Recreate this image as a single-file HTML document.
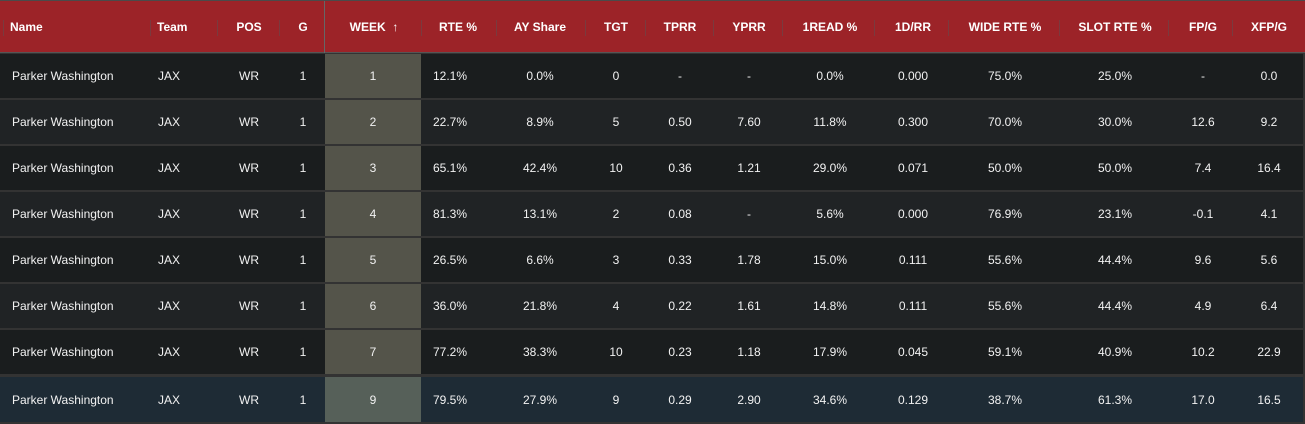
<!DOCTYPE html>
<html><head><meta charset="utf-8"><style>
body{margin:0;width:1305px;height:424px;background:#333;overflow:hidden;font-family:"Liberation Sans",sans-serif;}
.hdr{position:absolute;left:0;top:0;width:1305px;height:53px;background:#9c2328;border-top:1px solid #4a4a4a;box-sizing:border-box;border-bottom:1px solid #555;}
.row{position:absolute;left:0;width:1303px;height:44px;}
.c{position:absolute;top:0;height:100%;display:flex;align-items:center;justify-content:center;color:#f2f2f2;font-size:12px;white-space:nowrap;}
.h{position:absolute;top:0;height:52px;display:flex;align-items:center;justify-content:center;color:#fff;font-size:12px;font-weight:bold;white-space:nowrap;}
.sep{position:absolute;top:19px;width:1px;height:16px;background:#7a3a3e;}
.wk{position:absolute;left:325px;width:96px;top:0;height:100%;background:#54544a;}
</style></head><body>
<div class="hdr">
<div class="sep" style="left:3px"></div><div class="sep" style="left:150px"></div><div class="sep" style="left:217px"></div><div class="sep" style="left:279px"></div>
<div style="position:absolute;left:324px;top:0;width:1px;height:52px;background:#666"></div>
<div class="sep" style="left:421px"></div><div class="sep" style="left:496px"></div><div class="sep" style="left:585px"></div><div class="sep" style="left:645px"></div><div class="sep" style="left:713px"></div><div class="sep" style="left:782px"></div><div class="sep" style="left:874px"></div><div class="sep" style="left:948px"></div><div class="sep" style="left:1059px"></div><div class="sep" style="left:1168px"></div><div class="sep" style="left:1232px"></div>
<div class="h" style="left:10px;justify-content:flex-start">Name</div>
<div class="h" style="left:157px;justify-content:flex-start">Team</div>
<div class="h" style="left:219px;width:60px">POS</div>
<div class="h" style="left:283px;width:40px">G</div>
<div class="h" style="left:324px;width:100px">WEEK&nbsp;&nbsp;&#8593;</div>
<div class="h" style="left:418px;width:80px">RTE %</div>
<div class="h" style="left:490px;width:100px">AY Share</div>
<div class="h" style="left:586px;width:60px">TGT</div>
<div class="h" style="left:650px;width:60px">TPRR</div>
<div class="h" style="left:719px;width:60px">YPRR</div>
<div class="h" style="left:790px;width:80px">1READ %</div>
<div class="h" style="left:873px;width:80px">1D/RR</div>
<div class="h" style="left:945px;width:120px">WIDE RTE %</div>
<div class="h" style="left:1055px;width:120px">SLOT RTE %</div>
<div class="h" style="left:1173px;width:60px">FP/G</div>
<div class="h" style="left:1239px;width:60px">XFP/G</div>
</div>

<div class="row" style="top:54px;background:#1a1d1e"><div class="wk"></div>
<div class="c" style="left:12px">Parker Washington</div><div class="c" style="left:158px">JAX</div><div class="c" style="left:219px;width:60px">WR</div><div class="c" style="left:283px;width:40px">1</div><div class="c" style="left:325px;width:96px">1</div><div class="c" style="left:410px;width:80px">12.1%</div><div class="c" style="left:490px;width:100px">0.0%</div><div class="c" style="left:586px;width:60px">0</div><div class="c" style="left:650px;width:60px">-</div><div class="c" style="left:719px;width:60px">-</div><div class="c" style="left:790px;width:80px">0.0%</div><div class="c" style="left:873px;width:80px">0.000</div><div class="c" style="left:945px;width:120px">75.0%</div><div class="c" style="left:1055px;width:120px">25.0%</div><div class="c" style="left:1173px;width:60px">-</div><div class="c" style="left:1239px;width:60px">0.0</div></div>

<div class="row" style="top:100px;background:#202325"><div class="wk"></div>
<div class="c" style="left:12px">Parker Washington</div><div class="c" style="left:158px">JAX</div><div class="c" style="left:219px;width:60px">WR</div><div class="c" style="left:283px;width:40px">1</div><div class="c" style="left:325px;width:96px">2</div><div class="c" style="left:410px;width:80px">22.7%</div><div class="c" style="left:490px;width:100px">8.9%</div><div class="c" style="left:586px;width:60px">5</div><div class="c" style="left:650px;width:60px">0.50</div><div class="c" style="left:719px;width:60px">7.60</div><div class="c" style="left:790px;width:80px">11.8%</div><div class="c" style="left:873px;width:80px">0.300</div><div class="c" style="left:945px;width:120px">70.0%</div><div class="c" style="left:1055px;width:120px">30.0%</div><div class="c" style="left:1173px;width:60px">12.6</div><div class="c" style="left:1239px;width:60px">9.2</div></div>

<div class="row" style="top:146px;background:#1a1d1e"><div class="wk"></div>
<div class="c" style="left:12px">Parker Washington</div><div class="c" style="left:158px">JAX</div><div class="c" style="left:219px;width:60px">WR</div><div class="c" style="left:283px;width:40px">1</div><div class="c" style="left:325px;width:96px">3</div><div class="c" style="left:410px;width:80px">65.1%</div><div class="c" style="left:490px;width:100px">42.4%</div><div class="c" style="left:586px;width:60px">10</div><div class="c" style="left:650px;width:60px">0.36</div><div class="c" style="left:719px;width:60px">1.21</div><div class="c" style="left:790px;width:80px">29.0%</div><div class="c" style="left:873px;width:80px">0.071</div><div class="c" style="left:945px;width:120px">50.0%</div><div class="c" style="left:1055px;width:120px">50.0%</div><div class="c" style="left:1173px;width:60px">7.4</div><div class="c" style="left:1239px;width:60px">16.4</div></div>

<div class="row" style="top:192px;background:#202325"><div class="wk"></div>
<div class="c" style="left:12px">Parker Washington</div><div class="c" style="left:158px">JAX</div><div class="c" style="left:219px;width:60px">WR</div><div class="c" style="left:283px;width:40px">1</div><div class="c" style="left:325px;width:96px">4</div><div class="c" style="left:410px;width:80px">81.3%</div><div class="c" style="left:490px;width:100px">13.1%</div><div class="c" style="left:586px;width:60px">2</div><div class="c" style="left:650px;width:60px">0.08</div><div class="c" style="left:719px;width:60px">-</div><div class="c" style="left:790px;width:80px">5.6%</div><div class="c" style="left:873px;width:80px">0.000</div><div class="c" style="left:945px;width:120px">76.9%</div><div class="c" style="left:1055px;width:120px">23.1%</div><div class="c" style="left:1173px;width:60px">-0.1</div><div class="c" style="left:1239px;width:60px">4.1</div></div>

<div class="row" style="top:238px;background:#1a1d1e"><div class="wk"></div>
<div class="c" style="left:12px">Parker Washington</div><div class="c" style="left:158px">JAX</div><div class="c" style="left:219px;width:60px">WR</div><div class="c" style="left:283px;width:40px">1</div><div class="c" style="left:325px;width:96px">5</div><div class="c" style="left:410px;width:80px">26.5%</div><div class="c" style="left:490px;width:100px">6.6%</div><div class="c" style="left:586px;width:60px">3</div><div class="c" style="left:650px;width:60px">0.33</div><div class="c" style="left:719px;width:60px">1.78</div><div class="c" style="left:790px;width:80px">15.0%</div><div class="c" style="left:873px;width:80px">0.111</div><div class="c" style="left:945px;width:120px">55.6%</div><div class="c" style="left:1055px;width:120px">44.4%</div><div class="c" style="left:1173px;width:60px">9.6</div><div class="c" style="left:1239px;width:60px">5.6</div></div>

<div class="row" style="top:284px;background:#202325"><div class="wk"></div>
<div class="c" style="left:12px">Parker Washington</div><div class="c" style="left:158px">JAX</div><div class="c" style="left:219px;width:60px">WR</div><div class="c" style="left:283px;width:40px">1</div><div class="c" style="left:325px;width:96px">6</div><div class="c" style="left:410px;width:80px">36.0%</div><div class="c" style="left:490px;width:100px">21.8%</div><div class="c" style="left:586px;width:60px">4</div><div class="c" style="left:650px;width:60px">0.22</div><div class="c" style="left:719px;width:60px">1.61</div><div class="c" style="left:790px;width:80px">14.8%</div><div class="c" style="left:873px;width:80px">0.111</div><div class="c" style="left:945px;width:120px">55.6%</div><div class="c" style="left:1055px;width:120px">44.4%</div><div class="c" style="left:1173px;width:60px">4.9</div><div class="c" style="left:1239px;width:60px">6.4</div></div>

<div class="row" style="top:330px;background:#1a1d1e"><div class="wk"></div>
<div class="c" style="left:12px">Parker Washington</div><div class="c" style="left:158px">JAX</div><div class="c" style="left:219px;width:60px">WR</div><div class="c" style="left:283px;width:40px">1</div><div class="c" style="left:325px;width:96px">7</div><div class="c" style="left:410px;width:80px">77.2%</div><div class="c" style="left:490px;width:100px">38.3%</div><div class="c" style="left:586px;width:60px">10</div><div class="c" style="left:650px;width:60px">0.23</div><div class="c" style="left:719px;width:60px">1.18</div><div class="c" style="left:790px;width:80px">17.9%</div><div class="c" style="left:873px;width:80px">0.045</div><div class="c" style="left:945px;width:120px">59.1%</div><div class="c" style="left:1055px;width:120px">40.9%</div><div class="c" style="left:1173px;width:60px">10.2</div><div class="c" style="left:1239px;width:60px">22.9</div></div>

<div class="row" style="top:377px;height:45px;background:#1e2b35"><div class="wk" style="background:#566059"></div>
<div class="c" style="left:12px">Parker Washington</div><div class="c" style="left:158px">JAX</div><div class="c" style="left:219px;width:60px">WR</div><div class="c" style="left:283px;width:40px">1</div><div class="c" style="left:325px;width:96px">9</div><div class="c" style="left:410px;width:80px">79.5%</div><div class="c" style="left:490px;width:100px">27.9%</div><div class="c" style="left:586px;width:60px">9</div><div class="c" style="left:650px;width:60px">0.29</div><div class="c" style="left:719px;width:60px">2.90</div><div class="c" style="left:790px;width:80px">34.6%</div><div class="c" style="left:873px;width:80px">0.129</div><div class="c" style="left:945px;width:120px">38.7%</div><div class="c" style="left:1055px;width:120px">61.3%</div><div class="c" style="left:1173px;width:60px">17.0</div><div class="c" style="left:1239px;width:60px">16.5</div></div>
</body></html>
